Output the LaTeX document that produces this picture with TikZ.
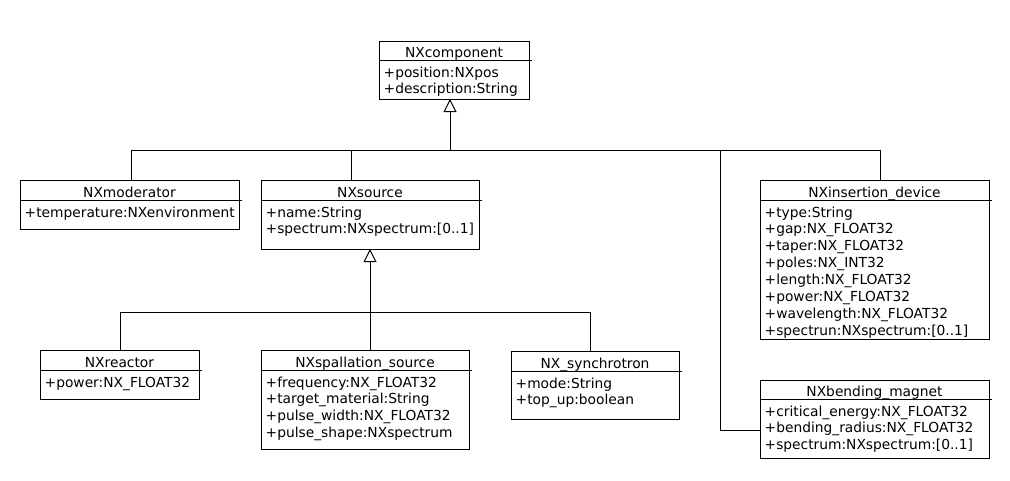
\documentclass[tikz,border=0pt]{standalone}
\usepackage{fontspec}
\setmainfont{DejaVu Sans}
\usetikzlibrary{arrows.meta,fit,calc}
\tikzset{
  clsbox/.style={draw, line width=1pt, inner sep=0pt, outer sep=0pt, minimum size=0pt},
  clsline/.style={line width=1pt},
  clstitle/.style={font=\fontsize{13.8}{16}\selectfont, inner sep=0pt, anchor=base},
  clsattr/.style={font=\fontsize{13.8}{16}\selectfont, inner sep=0pt, anchor=base west},
  conn/.style={line width=1pt},
  inh/.style={line width=1pt, -{Triangle[open, length=13pt, width=13pt]}}
}
% #1 name, #2 left, #3 top, #4 right, #5 bottom, #6 header y, #7 title, #8 attributes
\newcommand\umlclass[8]{%
  \node[clsbox, fit={(#2,#3) (#4,#5)}] (#1) {};
  \draw[clsline] (#2,#6) -- ({#4+2.5},#6);
  \node[clstitle] (#1-t) at ({(#2+#4)/2},{#6-3}) {#7};
  \foreach \txt [count=\i] in {#8} {%
    \node[clsattr] (#1-a\i) at ({#2+4.5},{#6+17+(\i-1)*16.9}) {\txt};}
}
\begin{document}
\begin{tikzpicture}[x=1pt,y=-1pt]
\useasboundingbox (0,0) rectangle (1010,480);
\umlclass{comp}{379}{41}{529}{99}{60}{NXcomponent}{+position:NXpos,+description:String}
\umlclass{mod}{20}{180}{239}{229}{200}{NXmoderator}{+temperature:NXenvironment}
\umlclass{src}{261}{180}{479}{249}{200}{NXsource}{+name:String,+spectrum:NXspectrum:[0..1]}
\umlclass{ins}{760}{180}{989}{339}{200}{NXinsertion\_device}{+type:String,+gap:NX\_FLOAT32,+taper:NX\_FLOAT32,+poles:NX\_INT32,+length:NX\_FLOAT32,+power:NX\_FLOAT32,+wavelength:NX\_FLOAT32,+spectrun:NXspectrum:[0..1]}
\umlclass{bend}{760}{380}{989}{458}{399}{NXbending\_magnet}{+critical\_energy:NX\_FLOAT32,+bending\_radius:NX\_FLOAT32,+spectrum:NXspectrum:[0..1]}
\umlclass{rea}{40}{350}{199}{399}{370}{NXreactor}{+power:NX\_FLOAT32}
\umlclass{spa}{261}{350}{469}{449}{370}{NXspallation\_source}{+frequency:NX\_FLOAT32,+target\_material:String,+pulse\_width:NX\_FLOAT32,+pulse\_shape:NXspectrum}
\umlclass{syn}{511}{351}{679}{419}{371}{NX\_synchrotron}{+mode:String,+top\_up:boolean}

\coordinate (busC) at (450,150);
\coordinate (busB) at (720,150);
\coordinate (busS) at (370,312);

\draw[conn] ([xshift=111pt]mod.north west) |- (busC);
\draw[conn] ([xshift=90pt]src.north west) |- (busC);
\draw[conn] ([xshift=120pt]ins.north west) |- (busC);
\draw[conn] ([yshift=28pt]bend.south west) -| (busB);
\draw[inh] (busC) -- ([xshift=71pt]comp.south west);

\draw[conn] ([xshift=80pt]rea.north west) |- (busS);
\draw[conn] ([xshift=109pt]spa.north west) |- (busS);
\draw[conn] ([xshift=79pt]syn.north west) |- (busS);
\draw[inh] (busS) -- ([xshift=109pt]src.south west);
\end{tikzpicture}
\end{document}
